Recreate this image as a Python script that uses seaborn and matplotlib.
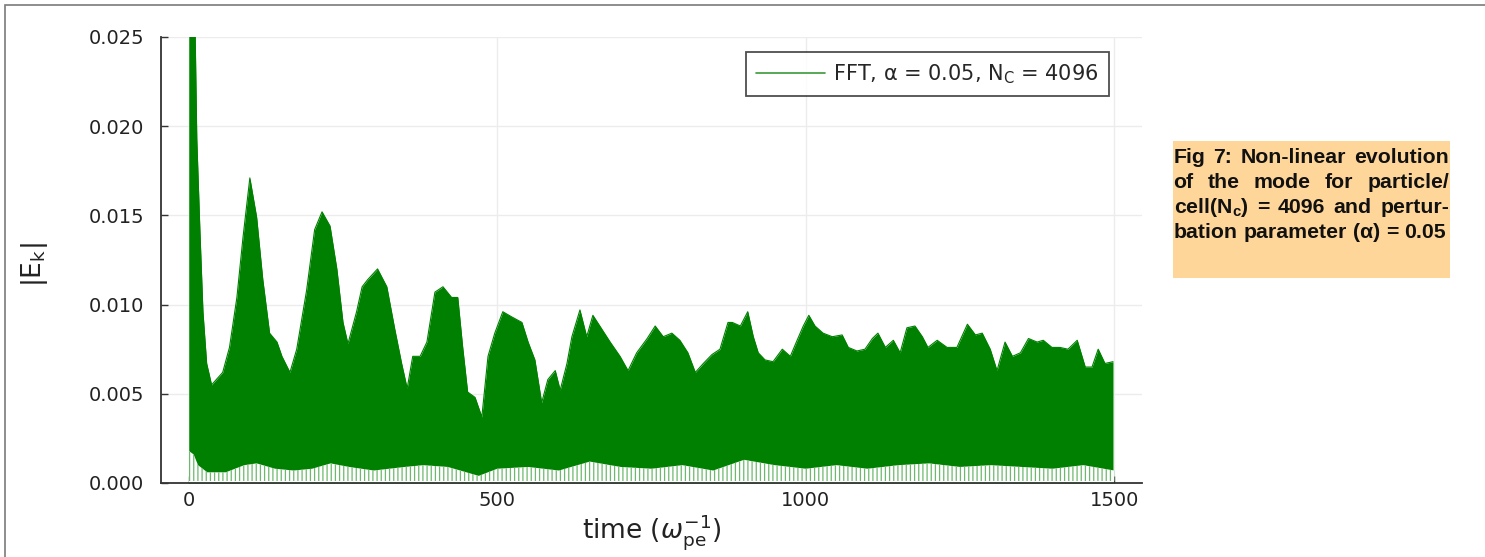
import numpy as np
import pandas as pd
import seaborn as sns
import matplotlib
matplotlib.use("Agg")
import matplotlib.pyplot as plt
from matplotlib.patches import Rectangle

# ---------------- data ----------------
t_upper = [0, 10, 13, 18, 23, 29, 37, 55, 66, 78, 88, 99, 110, 120, 131, 143, 151, 164,
           175, 191, 204, 216, 229, 240, 250, 258, 272, 281, 290, 306, 321, 334, 345, 354,
           363, 375, 386, 399, 412, 426, 436, 444, 452, 464, 475, 485, 496, 509, 524, 540,
           550, 561, 572, 582, 594, 602, 613, 621, 634, 645, 655, 670, 683, 699, 712, 726,
           743, 756, 769, 783, 796, 809, 821, 834, 848, 861, 874, 881, 894, 906, 915, 923,
           934, 947, 962, 975, 986, 996, 1005, 1015, 1028, 1043, 1059, 1069, 1083, 1096,
           1108, 1117, 1129, 1142, 1153, 1164, 1177, 1189, 1198, 1213, 1229, 1245, 1262,
           1275, 1286, 1299, 1310, 1323, 1335, 1348, 1361, 1375, 1385, 1399, 1412, 1425,
           1440, 1453, 1464, 1474, 1485, 1498]
e_upper = [0.0260, 0.0260, 0.0193, 0.0142, 0.0096, 0.0067, 0.0055, 0.0062, 0.0076, 0.0104,
           0.0138, 0.0171, 0.0149, 0.0114, 0.0084, 0.0079, 0.0071, 0.0062, 0.0075, 0.0108,
           0.0142, 0.0152, 0.0144, 0.0120, 0.0090, 0.0078, 0.0096, 0.0110, 0.0114, 0.0120,
           0.0110, 0.0086, 0.0067, 0.0053, 0.0071, 0.0071, 0.0079, 0.0107, 0.0110, 0.0104,
           0.0104, 0.0076, 0.0051, 0.0048, 0.0037, 0.0071, 0.0084, 0.0096, 0.0093, 0.0090,
           0.0079, 0.0069, 0.0045, 0.0058, 0.0063, 0.0052, 0.0067, 0.0082, 0.0097, 0.0082,
           0.0094, 0.0086, 0.0079, 0.0071, 0.0063, 0.0073, 0.0081, 0.0088, 0.0082, 0.0084,
           0.0080, 0.0073, 0.0062, 0.0067, 0.0072, 0.0075, 0.0090, 0.0090, 0.0088, 0.0096,
           0.0082, 0.0073, 0.0069, 0.0068, 0.0075, 0.0071, 0.0080, 0.0088, 0.0094, 0.0088,
           0.0084, 0.0082, 0.0083, 0.0076, 0.0074, 0.0075, 0.0081, 0.0084, 0.0076, 0.0080,
           0.0073, 0.0087, 0.0088, 0.0082, 0.0076, 0.0080, 0.0076, 0.0076, 0.0089, 0.0083,
           0.0084, 0.0075, 0.0063, 0.0079, 0.0071, 0.0073, 0.0081, 0.0079, 0.0080, 0.0076,
           0.0076, 0.0075, 0.0080, 0.0065, 0.0065, 0.0075, 0.0067, 0.0068]

t_lower = [0, 8, 15, 30, 60, 90, 110, 140, 170, 200, 230, 260, 300, 350, 380, 420, 470,
           500, 550, 600, 650, 700, 750, 800, 850, 900, 950, 1000, 1050, 1100, 1150, 1200,
           1250, 1300, 1350, 1400, 1450, 1500]
e_lower = [0.0018, 0.0016, 0.0010, 0.0006, 0.0006, 0.0010, 0.0011, 0.0008, 0.0007, 0.0008,
           0.0011, 0.0009, 0.0007, 0.0009, 0.0010, 0.0009, 0.0004, 0.0008, 0.0009, 0.0007,
           0.0012, 0.0009, 0.0008, 0.0010, 0.0007, 0.0013, 0.0010, 0.0008, 0.0010, 0.0008,
           0.0010, 0.0011, 0.0009, 0.0010, 0.0009, 0.0008, 0.0010, 0.0007]

x_ticks = [0, 500, 1000, 1500]
y_ticks = [0.000, 0.005, 0.010, 0.015, 0.020, 0.025]
y_ticklabels = ["0.000", "0.005", "0.010", "0.015", "0.020", "0.025"]
legend_label = r"FFT, α = 0.05, N$_\mathregular{C}$ = 4096"
caption_lines = [
    ["Fig", "7:", "Non-linear", "evolution"],
    ["of", "the", "mode", "for", "particle/"],
    ["cell(N$_\\mathregular{c}$)", "=", "4096", "and", "pertur-"],
    ["bation", "parameter", "(α)", "=", "0.05"],
]

# ---------------- style ----------------
GREEN = "#008000"
LIGHT_GREEN = "#6cb86c"
W, H = 1485, 557

sns.set_theme(style="white")
plt.rcParams["font.family"] = ["DejaVu Sans"]
plt.rcParams["mathtext.fontset"] = "dejavusans"
plt.rcParams["hatch.linewidth"] = 0.9

fig = plt.figure(figsize=(W / 100, H / 100), dpi=100)
fig.patch.set_facecolor("white")
ax = fig.add_axes([161 / W, 1 - 483 / H, (1142 - 161) / W, (483 - 37) / H])
ax.set_facecolor("white")

df_up = pd.DataFrame({"time": t_upper, "Ek": e_upper})
df_lo = pd.DataFrame({"time": t_lower, "Ek": e_lower})

# solid body of the oscillation
ax.fill_between(df_up["time"], 0, df_up["Ek"], color=GREEN, linewidth=0, zorder=2)
# light streak band below the dense part
ax.fill_between(df_lo["time"], 0.0001, df_lo["Ek"], facecolor="white",
                edgecolor=LIGHT_GREEN, hatch="||||", linewidth=0, zorder=3)
ax.fill_between(df_lo["time"], 0, 0.0001, facecolor="white", linewidth=0, zorder=3)
sns.lineplot(data=df_up, x="time", y="Ek", color=GREEN, linewidth=0.8,
             label=legend_label, ax=ax, zorder=4)

ax.set_xlim(-45, 1545)
ax.set_ylim(0, 0.025)
ax.set_xticks(x_ticks)
ax.set_xticklabels([str(v) for v in x_ticks])
ax.set_yticks(y_ticks)
ax.set_yticklabels(y_ticklabels)

ax.grid(True, color="#ececec", linewidth=1.0, zorder=0)
ax.set_axisbelow(True)
for s in ["top", "right"]:
    ax.spines[s].set_visible(False)
for s in ["left", "bottom"]:
    ax.spines[s].set_color("#333333")
    ax.spines[s].set_linewidth(1.3)
    ax.spines[s].set_zorder(6)

ax.tick_params(axis="both", direction="in", length=5, width=1.0, color="#333333",
               labelsize=14, labelcolor="#222222")
ax.tick_params(axis="y", pad=12, left=True)
ax.tick_params(axis="x", pad=6, bottom=True)

ax.set_xlabel(r"time ($\omega_\mathregular{pe}^\mathregular{-1}$)", fontsize=19, color="#222222")
ax.set_ylabel(r"|E$_\mathregular{k}$|", fontsize=19, color="#222222")
ax.xaxis.set_label_coords(0.5, -0.065)
ax.yaxis.set_label_coords(-0.113, 0.49)

leg = ax.legend(loc="upper right", bbox_to_anchor=((1109 - 161) / 981, (483 - 52) / 446),
                borderaxespad=0, frameon=True, fancybox=False, fontsize=15,
                handlelength=3.3, handletextpad=0.4, borderpad=0.5)
leg.get_frame().set_edgecolor("#222222")
leg.get_frame().set_linewidth(1.3)
for line in leg.get_lines():
    line.set_linewidth(1.2)
    line.set_color("#3a9a3a")

# figure border (top and left edges)
fig.add_artist(Rectangle((5 / W, -0.1), 1.2, 1.1 - 5 / H, transform=fig.transFigure,
                         fill=False, edgecolor="#7a7a7a", linewidth=1.2))

# caption box
fig.add_artist(Rectangle((1173 / W, 1 - 278 / H), (1450 - 1173) / W, (278 - 141) / H,
                         transform=fig.transFigure, facecolor="#FFD699", edgecolor="none"))

renderer = fig.canvas.get_renderer()
baselines = [163, 188, 213, 238]
x0, x1 = 1173.5, 1449.0
fs = 15.3
for li, (words, yb) in enumerate(zip(caption_lines, baselines)):
    texts = [fig.text(0, 0, w, fontsize=fs, fontweight="bold", family="Liberation Sans",
                      color="#111111", va="baseline", ha="left") for w in words]
    widths = [t.get_window_extent(renderer).width for t in texts]
    if li < len(caption_lines) - 1:
        gap = (x1 - x0 - sum(widths)) / (len(words) - 1)
    else:
        gap = 0.278 * fs * 100 / 72
    x = x0
    for t, w in zip(texts, widths):
        t.set_position((x / W, 1 - yb / H))
        x += w + gap

fig.savefig("out.png", dpi=100, facecolor="white")
